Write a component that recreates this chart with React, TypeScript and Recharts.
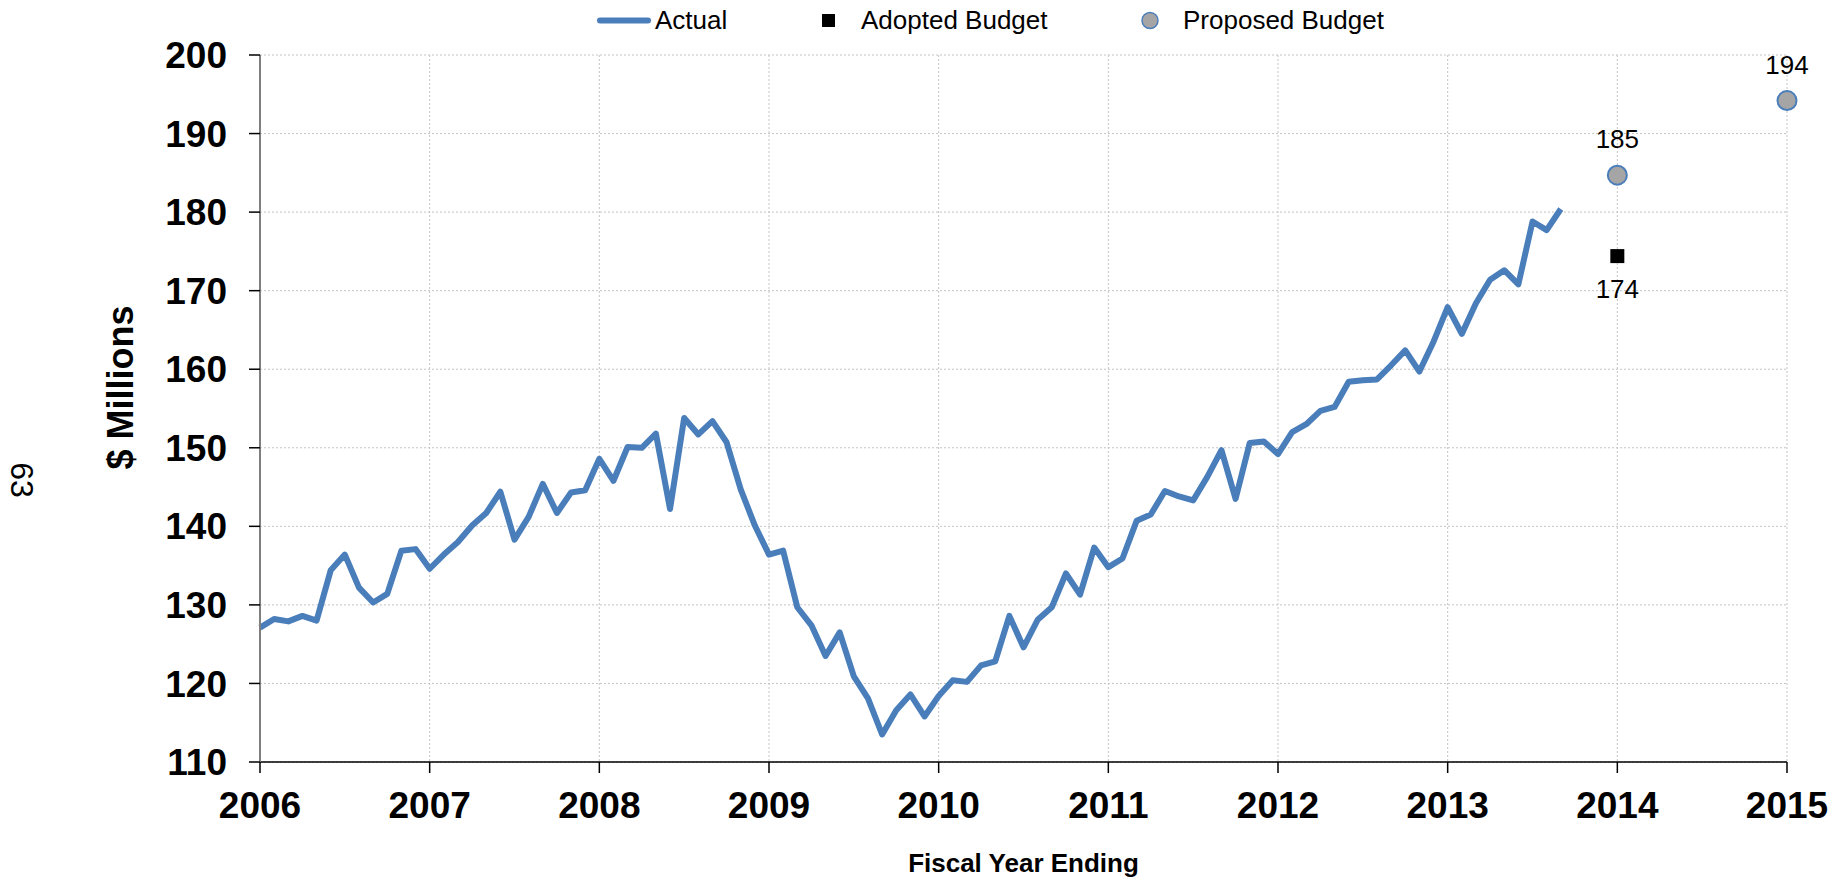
import React from "react";
import {
  CartesianGrid,
  ComposedChart,
  Legend,
  Line,
  Scatter,
  XAxis,
  YAxis,
} from "recharts";

const FONT = "'Liberation Sans', Arial, sans-serif";
const BLUE = "#4a7ebb";
const GREY = "#a5a5a5";

// first monthly point is the start of fiscal 2006
const START_YEAR = 2006;

// monthly actuals, $ millions, Jan 2006 .. Sep 2013
const actualValues = [
  127.1, 128.2, 127.9, 128.6, 128.0, 134.4, 136.4, 132.2, 130.3, 131.4, 136.9, 137.1,
  134.6, 136.4, 138.0, 140.1, 141.7, 144.4, 138.3, 141.2, 145.4, 141.7, 144.3, 144.6,
  148.6, 145.8, 150.1, 150.0, 151.8, 142.2, 153.8, 151.7, 153.4, 150.7, 144.7, 140.1,
  136.4, 136.9, 129.7, 127.4, 123.5, 126.5, 120.9, 118.1, 113.5, 116.6, 118.6, 115.8,
  118.4, 120.4, 120.2, 122.3, 122.8, 128.6, 124.6, 128.1, 129.7, 134.0, 131.3, 137.3,
  134.8, 135.9, 140.7, 141.5, 144.5, 143.8, 143.3, 146.3, 149.7, 143.5, 150.6, 150.8,
  149.2, 152.0, 153.0, 154.7, 155.2, 158.4, 158.6, 158.7, 160.5, 162.4, 159.7, 163.5,
  167.9, 164.5, 168.4, 171.4, 172.6, 170.8, 178.8, 177.7, 180.4,
];

const adoptedYears = [2014];
const adoptedValues = [174.4];

const proposedYears = [2014, 2015];
const proposedValues = [184.7, 194.2];

const yearTicks = [2006, 2007, 2008, 2009, 2010, 2011, 2012, 2013, 2014, 2015];
const valueTicks = [110, 120, 130, 140, 150, 160, 170, 180, 190, 200];

const actualData = actualValues.map((v, i) => ({ x: START_YEAR + i / 12, y: v }));
const adoptedData = adoptedYears.map((x, i) => ({ x, y: adoptedValues[i] }));
const proposedData = proposedYears.map((x, i) => ({ x, y: proposedValues[i] }));

function AdoptedMark(props: any) {
  const { cx, cy, payload } = props;
  return (
    <g>
      <rect x={cx - 7} y={cy - 7} width={14} height={14} fill="#000" />
      <text x={cx} y={cy + 42} textAnchor="middle" fontSize={26} fontFamily={FONT} fill="#000">
        {Math.round(payload.y)}
      </text>
    </g>
  );
}

function ProposedMark(props: any) {
  const { cx, cy, payload } = props;
  return (
    <g>
      <circle cx={cx} cy={cy} r={9.5} fill={GREY} stroke={BLUE} strokeWidth={2} />
      <text x={cx} y={cy - 27} textAnchor="middle" fontSize={26} fontFamily={FONT} fill="#000">
        {Math.round(payload.y)}
      </text>
    </g>
  );
}

function ChartLegend() {
  return (
    <svg width={1845} height={40} style={{ display: "block" }}>
      <line x1={600} y1={20.5} x2={648} y2={20.5} stroke={BLUE} strokeWidth={6} strokeLinecap="round" />
      <text x={655} y={29} fontSize={26} fontFamily={FONT} fill="#000">Actual</text>
      <rect x={822} y={14} width={13} height={13} fill="#000" />
      <text x={861} y={29} fontSize={26} fontFamily={FONT} fill="#000">Adopted Budget</text>
      <circle cx={1150} cy={20.5} r={8} fill={GREY} stroke={BLUE} strokeWidth={1.5} />
      <text x={1183} y={29} fontSize={26} fontFamily={FONT} fill="#000">Proposed Budget</text>
    </svg>
  );
}

function YTitle(props: any) {
  const { viewBox } = props;
  const x = viewBox.x + 133;
  const y = viewBox.y + viewBox.height / 2 - 21;
  return (
    <text
      x={x}
      y={y}
      transform={`rotate(-90, ${x}, ${y})`}
      textAnchor="middle"
      fontSize={36}
      fontWeight="bold"
      fontFamily={FONT}
      fill="#000"
    >
      $ Millions
    </text>
  );
}

function XTitle(props: any) {
  const { viewBox } = props;
  return (
    <text
      x={viewBox.x + viewBox.width / 2}
      y={viewBox.y + 110}
      textAnchor="middle"
      fontSize={26}
      fontWeight="bold"
      fontFamily={FONT}
      fill="#000"
    >
      Fiscal Year Ending
    </text>
  );
}

export default function App() {
  return (
    <div style={{ position: "absolute", left: 0, top: 0, width: 1845, height: 880, background: "#fff" }}>
      <ComposedChart
        width={1845}
        height={880}
        margin={{ top: 55, right: 58, bottom: 0, left: 0 }}
      >
        <CartesianGrid stroke="#c4c4c4" strokeDasharray="2 2" />
        <XAxis
          dataKey="x"
          type="number"
          domain={[2006, 2015]}
          ticks={yearTicks}
          interval={0}
          height={118}
          tickSize={11}
          tickMargin={19}
          axisLine={{ stroke: "#000", strokeWidth: 1.5 }}
          tickLine={{ stroke: "#000", strokeWidth: 1.5 }}
          tick={{ fontSize: 37, fontWeight: "bold", fill: "#000", fontFamily: FONT }}
          label={{ content: XTitle }}
        />
        <YAxis
          type="number"
          domain={[110, 200]}
          ticks={valueTicks}
          interval={0}
          width={260}
          tickSize={11}
          tickMargin={22}
          axisLine={{ stroke: "#7f7f7f", strokeWidth: 2 }}
          tickLine={{ stroke: "#000", strokeWidth: 1.5 }}
          tick={{ fontSize: 37, fontWeight: "bold", fill: "#000", fontFamily: FONT }}
          label={{ content: YTitle }}
        />
        <Legend
          verticalAlign="middle"
          wrapperStyle={{ top: 0, left: 0, width: 1845, height: 40 }}
          content={ChartLegend}
        />
        <Line
          data={actualData}
          dataKey="y"
          name="Actual"
          stroke={BLUE}
          strokeWidth={6}
          strokeLinejoin="round"
          dot={false}
          activeDot={false}
          isAnimationActive={false}
        />
        <Scatter
          data={adoptedData}
          dataKey="y"
          name="Adopted Budget"
          shape={AdoptedMark}
          isAnimationActive={false}
        />
        <Scatter
          data={proposedData}
          dataKey="y"
          name="Proposed Budget"
          shape={ProposedMark}
          isAnimationActive={false}
        />
      </ComposedChart>
      <svg width={50} height={80} style={{ position: "absolute", left: 0, top: 440 }}>
        <text
          x={11}
          y={40}
          transform="rotate(90, 11, 40)"
          textAnchor="middle"
          fontSize={32}
          fontFamily={FONT}
          fill="#000"
        >
          63
        </text>
      </svg>
    </div>
  );
}
